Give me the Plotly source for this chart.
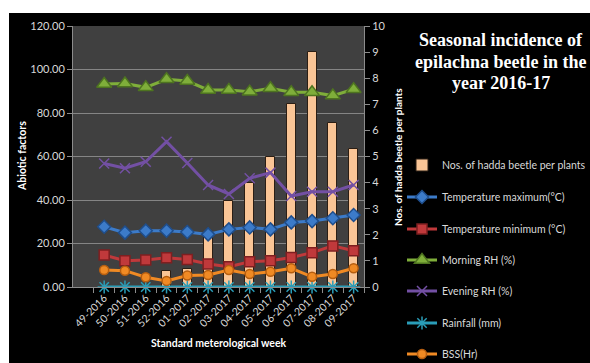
import plotly.graph_objects as go

# Standard meteorological weeks
weeks = ["49-2016", "50-2016", "51-2016", "52-2016", "01-2017", "02-2017", "03-2017",
         "04-2017", "05-2017", "06-2017", "07-2017", "08-2017", "09-2017"]

# Epilachna (hadda) beetle counts per plant (right axis)
beetles = [0, 0, 0, 0.6, 0.7, 2.0, 3.3, 4.0, 5.0, 7.0, 9.0, 6.3, 5.3]

# Abiotic factors (left axis)
temp_max = [27.7, 25.0, 25.9, 25.9, 25.3, 24.2, 26.5, 27.4, 26.5, 29.7, 30.3, 31.6, 33.1]
temp_min = [14.7, 12.1, 12.4, 13.5, 12.6, 10.6, 9.3, 11.6, 12.1, 13.6, 15.8, 18.9, 16.7]
morning_rh = [93.3, 93.6, 91.8, 95.5, 94.7, 90.6, 90.6, 89.8, 91.4, 89.5, 89.5, 88.0, 90.9]
evening_rh = [56.8, 54.6, 57.6, 66.8, 57.0, 46.9, 42.8, 50.0, 52.6, 41.8, 43.8, 43.8, 46.9]
rainfall = [0, 0, 0, 0, 0, 0, 0, 0, 0, 0, 0, 0, 0]
bss = [7.8, 7.5, 4.5, 2.8, 5.3, 5.5, 7.8, 6.0, 7.0, 8.6, 4.7, 6.0, 8.6]

left_ticks = [0, 20, 40, 60, 80, 100, 120]
right_ticks = list(range(0, 11))

title_lines = ["Seasonal incidence of", "epilachna beetle in the", "year 2016-17"]

FONT = "Lato"
TICK_COLOR = "#D9D9D9"
AXIS_LINE = "#8C8C8C"
W, H = 590, 363

# each legend entry gets its own small legend box, stacked down the right side
legend_ids = ["legend", "legend2", "legend3", "legend4", "legend5", "legend6", "legend7"]
legend_rows = [165, 197, 229, 260, 291, 323, 354]

fig = go.Figure()

fig.add_trace(go.Bar(
    x=weeks, y=beetles, name="Nos. of hadda beetle per plants",
    yaxis="y", width=0.43,
    marker=dict(color="#FAC596", line=dict(color="#2B1E14", width=1)),
    legend=legend_ids[0],
))

line_series = [
    ("Temperature maximum(°C)", temp_max, "#3C7BC9", "#1F4E8C", "diamond", 10),
    ("Temperature minimum (°C)", temp_min, "#C0393B", "#7E1F20", "square", 10),
    ("Morning RH (%)", morning_rh, "#7FAE3A", "#4E7420", "triangle-up", 13),
    ("Evening RH (%)", evening_rh, "#7350A4", "#7350A4", "x-thin-open", 10),
    ("Rainfall (mm)", rainfall, "#2A9DB8", "#2A9DB8", "asterisk-open", 11),
    ("BSS(Hr)", bss, "#F08A24", "#B65E10", "circle", 9),
]
for i, (name, vals, col, edge, sym, size) in enumerate(line_series):
    fig.add_trace(go.Scatter(
        x=weeks, y=vals, name=name, yaxis="y2", mode="lines+markers",
        line=dict(color=col, width=3),
        marker=dict(symbol=sym, size=size, color=col, line=dict(color=edge, width=1.5)),
        legend=legend_ids[i + 1], cliponaxis=False,
    ))

# helpers converting pixel positions into paper coordinates
L, R, T, B = 73, 364, 26, 287
def px_x(px):
    return (px - L) / (R - L)
def px_y(py):
    return (B - py) / (B - T)

legend_layout = {}
for lid, row in zip(legend_ids, legend_rows):
    legend_layout[lid] = dict(
        xref="container", yref="container",
        x=402 / W, y=1 - row / H, xanchor="left", yanchor="middle",
        bgcolor="rgba(0,0,0,0)", borderwidth=0,
        font=dict(family=FONT, size=10.5, color="#D9D9D9"),
        itemwidth=30,
    )

annotations = []
for line, yc in zip(title_lines, [40, 62, 83]):
    annotations.append(dict(
        text=f"<b>{line}</b>", xref="paper", yref="paper",
        x=px_x(501), y=px_y(yc), xanchor="center", yanchor="middle", showarrow=False,
        font=dict(family="Liberation Serif", size=18, color="white")))
annotations += [
    dict(text="<b>Abiotic factors</b>", textangle=-90,
         xref="paper", yref="paper", x=px_x(22), y=px_y(156),
         xanchor="center", yanchor="middle", showarrow=False,
         font=dict(family=FONT, size=10.5, color="white")),
    dict(text="<b>Nos. of hadda beetle per plants</b>", textangle=-90,
         xref="paper", yref="paper", x=px_x(398), y=px_y(157),
         xanchor="center", yanchor="middle", showarrow=False,
         font=dict(family=FONT, size=10, color="white")),
    dict(text="<b>Standard meterological week</b>",
         xref="paper", yref="paper", x=px_x(218.5), y=px_y(343),
         xanchor="center", yanchor="middle", showarrow=False,
         font=dict(family=FONT, size=10.5, color="white")),
]

fig.update_layout(
    width=W, height=H,
    margin=dict(l=L, r=W - R, t=T, b=H - B, pad=0, autoexpand=False),
    paper_bgcolor="black", plot_bgcolor="#404040",
    font=dict(family=FONT, color=TICK_COLOR, size=11),
    bargap=0,
    showlegend=True,
    xaxis=dict(
        type="category", range=[-1.5, 12.5], tickangle=-45, automargin=False,
        showgrid=False, showline=True, linecolor=AXIS_LINE, linewidth=1,
        ticks="outside", tickson="boundaries", ticklen=5, tickcolor=AXIS_LINE,
        tickfont=dict(family=FONT, size=10.5, color=TICK_COLOR),
    ),
    yaxis=dict(
        side="right", range=[0, 10], tickvals=right_ticks, automargin=False,
        showgrid=False, showline=True, linecolor=AXIS_LINE, linewidth=1,
        ticks="outside", ticklen=5, tickcolor=AXIS_LINE,
        tickfont=dict(family=FONT, size=11, color=TICK_COLOR), zeroline=False,
    ),
    yaxis2=dict(
        overlaying="y", side="left", range=[0, 120], tickvals=left_ticks,
        tickformat=".2f", automargin=False,
        showgrid=True, gridcolor="#858585", gridwidth=1,
        showline=True, linecolor=AXIS_LINE, linewidth=1,
        ticks="outside", ticklen=5, tickcolor=AXIS_LINE,
        tickfont=dict(family=FONT, size=11, color=TICK_COLOR), zeroline=False,
    ),
    shapes=[
        # white page edge around the black chart area
        dict(type="rect", xref="paper", yref="paper", x0=px_x(-5), x1=px_x(9),
             y0=px_y(370), y1=px_y(-5), fillcolor="white", line=dict(width=0)),
        dict(type="rect", xref="paper", yref="paper", x0=px_x(-5), x1=px_x(595),
             y0=px_y(13), y1=px_y(-5), fillcolor="white", line=dict(width=0)),
    ],
    annotations=annotations,
    **legend_layout,
)

fig.write_html("out.html")
